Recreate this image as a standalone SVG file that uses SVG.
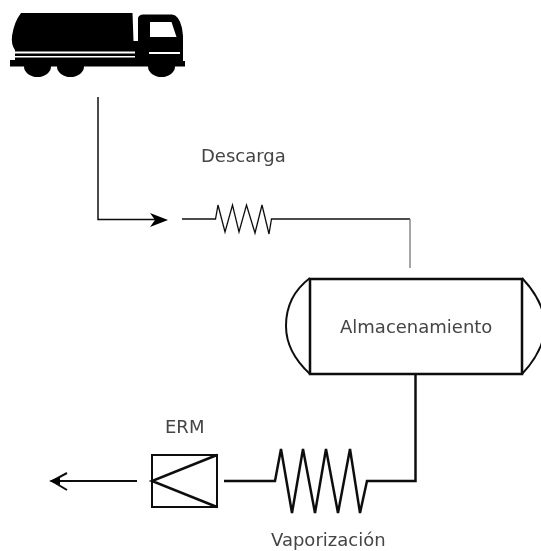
<svg xmlns="http://www.w3.org/2000/svg" width="541" height="551" viewBox="0 0 541 551">
<style>
.t{font-family:"DejaVu Sans",Verdana,sans-serif;font-size:18px;font-weight:400;fill:#444}
.p{fill:none;stroke:#111;stroke-linejoin:miter}
.b{fill:#000}
.w{fill:#fff}
</style>
<defs><filter id="s" x="-5%" y="-5%" width="110%" height="110%"><feGaussianBlur stdDeviation="0.35"/></filter></defs>
<rect width="541" height="551" fill="#fff"/>
<g id="truck" filter="url(#s)">
<path class="b" d="M21,13 L132.500,13 L133.500,41 L138,41 L138,18 Q139,14.500 143,14.500 L172,14.500 Q179,15 182,28 L183,36 L183,61 L185,61 L185,66.500 L175,66.500 A13.500,10.500 0 0 1 148,66.500 L84,66.500 A13.500,10.500 0 0 1 57,66.500 L51,66.500 A13.500,10.500 0 0 1 24,66.500 L10,66.500 L10,60 L15,60 L15,50 Q11,45 12,36 Q14,22 21,13 Z"/>
<path class="w" d="M150,22 L171.500,22 L176.500,37 L150,37 Z"/>
<rect class="w" x="15" y="51.500" width="120" height="2"/>
<rect class="w" x="15" y="56" width="120" height="1.500"/>
<rect class="w" x="149" y="52" width="31" height="2"/>
</g>
<g id="connectors" filter="url(#s)">
<path class="p" stroke-width="1.500" d="M98,97 V219.500 H160"/>
<path class="b" d="M150,213 L168,220 L150,227 L155,220 Z"/>
<path class="p" stroke-width="1.300" d="M182,219 H215.500 L218,205 L225,232 L232.500,205 L239,232 L246.500,205 L255,233 L262,205 L269,234 L271.500,219 H410"/>
<path class="p" stroke-width="1.300" style="stroke:#777" d="M410,219 V268"/>
<path class="p" stroke-width="2.500" d="M415.500,374 V481 H367 L360,513 L350,449 L338,513 L326,449 L315,513 L303,449 L292,513 L281,449 L275,481 H224"/>
<path class="p" stroke-width="1.800" d="M137,481 H56"/>
<path class="p" stroke-width="2" d="M67,473 L52,481 L67,490"/>
<path class="b" d="M49,481 L60,477 L60,485 Z"/>
</g>
<g id="vessel" filter="url(#s)">
<path class="p" stroke-width="2" d="M310,278 Q286,296 286,326 Q286,352 310,374"/>
<path class="p" stroke-width="2" d="M522,278 Q543,300 546,326 Q543,352 522,374"/>
<rect class="p" x="310" y="279" width="212" height="95" stroke-width="2.500"/>
<text class="t" x="340" y="333">Almacenamiento</text>
</g>
<g id="erm" filter="url(#s)">
<rect class="p" x="152" y="455" width="65" height="52" stroke-width="2"/>
<path class="p" stroke-width="2.500" d="M217,455 L152,481 L217,507"/>
<text class="t" x="165" y="433">ERM</text>
</g>
<g id="descarga" filter="url(#s)"><text class="t" x="201" y="162">Descarga</text></g>
<g id="vaporizacion" filter="url(#s)"><text class="t" x="271" y="546">Vaporización</text></g>
</svg>
